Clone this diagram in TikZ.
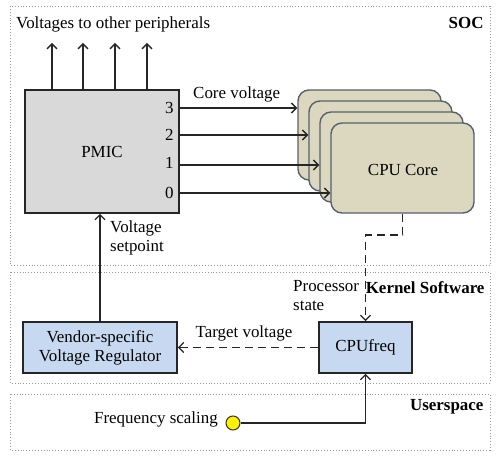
\documentclass[tikz,border=0pt]{standalone}
\usepackage{fontspec}
\setmainfont{Liberation Serif}
\usetikzlibrary{arrows.meta}
\definecolor{cardfill}{HTML}{DCD8C0}
\definecolor{carddraw}{HTML}{55606C}
\definecolor{boxblue}{HTML}{C6D9F1}
\definecolor{pmicgray}{HTML}{D9D9D9}
\begin{document}
\begin{tikzpicture}[x=1bp,y=-1bp,
  font=\fontsize{17}{19}\selectfont,
  region/.style={draw=gray!80, dotted, line width=0.9bp},
  arr/.style={-{Straight Barb[length=5bp,width=10bp,line width=1.3bp]}, line width=1.6bp, draw=black!85},
  dsh/.style={dash pattern=on 8bp off 5bp},
  card/.style={draw=carddraw, fill=cardfill, rounded corners=11bp, line width=1.4bp,
    minimum width=143bp, minimum height=90bp, inner sep=0pt},
  bluebox/.style={draw=black!85, fill=boxblue, line width=1.7bp, inner sep=0pt, align=center},
  regionlabel/.style={anchor=east, font=\fontsize{17}{19}\selectfont\bfseries},
  lbl/.style={inner sep=0pt}]
\useasboundingbox (0,0) rectangle (500,458);

% regions
\draw[region] (10,6) rectangle (490,265);
\draw[region] (10,272) rectangle (490,383);
\draw[region] (10,394) rectangle (490,450);
\node[regionlabel] (soc) at (487,23) {SOC};
\node[regionlabel] (kern) at (488,288) {Kernel Software};
\node[regionlabel] (user) at (487,407) {Userspace};

% PMIC
\node[draw=black!85, fill=pmicgray, line width=1.7bp, minimum width=154bp, minimum height=123bp, inner sep=0pt] (pmic) at (102,151.5) {};
\node[lbl] (pmiclbl) at (102,152) {PMIC};

% other peripherals
\node[lbl, anchor=west] (periph) at (16,24) {Voltages to other peripherals};
\foreach \x [count=\i] in {52,83,115,147} {
  \coordinate (top\i) at (\x,43);
  \draw[arr] (pmic.north -| top\i) -- (top\i);
}

% CPU cores
\node[card] (card1) at (369.5,135) {};
\node[card] (card2) at (380.5,146) {};
\node[card] (card3) at (391.5,157) {};
\node[card] (card4) at (402.5,168) {};
\node[lbl] (cpucore) at (403,170) {CPU Core};

% core voltage lines
\coordinate (o3) at ([yshift=43.5bp]pmic.east);
\coordinate (o2) at ([yshift=16.5bp]pmic.east);
\coordinate (o1) at ([yshift=-13.5bp]pmic.east);
\coordinate (o0) at ([yshift=-41.5bp]pmic.east);
\draw[arr] (o3) -- (o3 -| card1.west);
\draw[arr] (o2) -- (o2 -| card2.west);
\draw[arr] (o1) -- (o1 -| card3.west);
\draw[arr] (o0) -- (o0 -| card4.west);
\node[lbl, anchor=east] (n3) at ([xshift=-6bp]o3) {3};
\node[lbl, anchor=east] (n2) at ([xshift=-6bp]o2) {2};
\node[lbl, anchor=east] (n1) at ([xshift=-6bp,yshift=2bp]o1) {1};
\node[lbl, anchor=east] (n0) at ([xshift=-6bp]o0) {0};
\node[lbl, anchor=west] (corev) at (193,94) {Core voltage};

% kernel boxes
\node[bluebox, minimum width=93bp, minimum height=51bp] (cpufreq) at (365.5,347.5) {CPUfreq};
\node[bluebox, minimum width=154bp, minimum height=51bp] (vendor) at (100,347.5) {Vendor-specific\\Voltage Regulator};

% processor state
\draw[arr, dsh] (card4.south) -- ++(0,21) -| (cpufreq.north);
\node[lbl, anchor=west, align=left] (pstate) at (293,296) {Processor\\state};

% target voltage
\draw[arr, dsh] (cpufreq.west) -- (vendor.east);
\node[lbl] (tv) at (244,333) {Target voltage};

% voltage setpoint
\draw[arr] (vendor.north) -- (vendor.north |- pmic.south);
\node[lbl, anchor=west, align=left] (vset) at (110,237.5) {Voltage\\setpoint};

% frequency scaling
\node[circle, draw=black!80, fill=yellow, line width=1bp, minimum size=14bp, inner sep=0pt] (fs) at (233,423) {};
\node[lbl, anchor=east] (fslbl) at (218,419) {Frequency scaling};
\draw[arr] (fs.east) -| (cpufreq.south);
\end{tikzpicture}
\end{document}
